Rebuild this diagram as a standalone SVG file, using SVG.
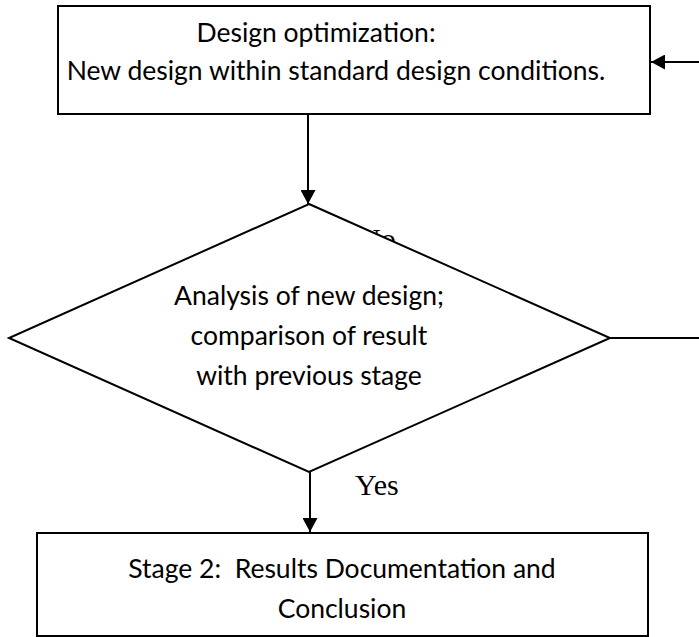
<svg xmlns="http://www.w3.org/2000/svg" width="699" height="637" viewBox="0 0 699 637">
<style>
.box{fill:#fff;stroke:#000;stroke-width:2}
.ln{fill:none;stroke:#000;stroke-width:2}
.t{font-family:Lato,"Open Sans","Liberation Sans",sans-serif;font-size:26.5px;fill:#000;text-anchor:middle}
.s{font-family:"Liberation Serif","Times New Roman",serif;font-size:30px;fill:#000}
</style>
<defs>
<marker id="ah" viewBox="0 0 14 15" refX="14" refY="7.5" markerWidth="14" markerHeight="15" markerUnits="userSpaceOnUse" orient="auto">
<path d="M0,0 L14,7.5 L0,15 Z" fill="#000"/>
</marker>
</defs>
<text class="s" x="359" y="249">No</text>
<g id="node-design">
<rect class="box" x="58" y="6" width="592" height="108"/>
<text class="t" x="316" y="42">Design optimization:</text>
<text class="t" x="336" y="80">New design within standard design conditions.</text>
</g>
<g id="node-analysis">
<polygon class="box" points="309,204 610,338 309,472 9,338"/>
<text class="t" x="309" y="305">Analysis of new design;</text>
<text class="t" x="309" y="345">comparison of result</text>
<text class="t" x="309" y="385">with previous stage</text>
</g>
<g id="node-stage2">
<rect class="box" x="37" y="533" width="611" height="103"/>
<text class="t" x="342" y="578" xml:space="preserve">Stage 2:  Results Documentation and</text>
<text class="t" x="342" y="618">Conclusion</text>
</g>
<g id="connectors">
<line class="ln" x1="308" y1="114" x2="308" y2="204" marker-end="url(#ah)"/>
<line class="ln" x1="310" y1="472" x2="310" y2="532" marker-end="url(#ah)"/>
<line class="ln" x1="610" y1="338" x2="699" y2="338"/>
<line class="ln" x1="699" y1="62" x2="651" y2="62" marker-end="url(#ah)"/>
<text class="s" x="355" y="495">Yes</text>
</g>
</svg>
